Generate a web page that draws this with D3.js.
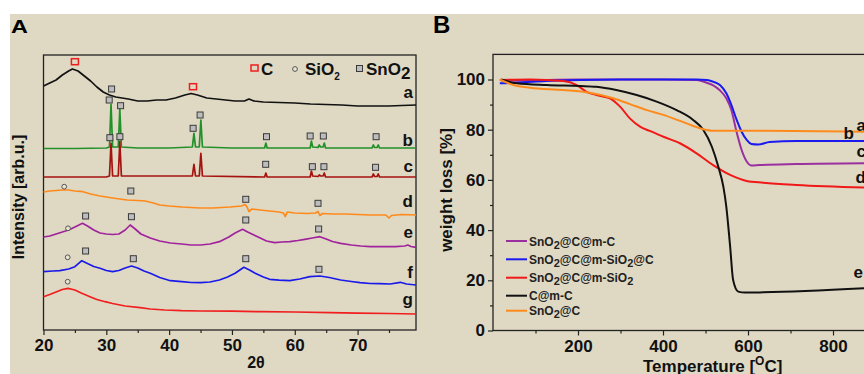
<!DOCTYPE html>
<html>
<head>
<meta charset="utf-8">
<script src="https://cdn.jsdelivr.net/npm/d3@7"></script>
<style>
  body { margin: 0; background: #fff; }
  svg { display: block; font-family: 'Liberation Sans', Arial, sans-serif; font-weight: bold; }
</style>
</head>
<body>
<div class="chart"></div>
<script>
// ---- panel A : XRD, [2theta, intensity] (intensity is arbitrary, stacked) ----
const xrdA = [[20,244],[21,247],[22,250],[23,255],[24,259],[24.6,261],[25.5,259],[26.5,254],[27.5,249],[28.5,243],[29.5,238],[30.5,235],[31.5,233],[32.5,232],[33.5,231],[35,229],[36.5,229],[38,230],[39.5,230],[41,232],[42.5,235],[43.5,236.5],[44.5,235],[46,232],[47.5,231],[49,230],[50.5,229],[52,229],[52.7,231],[53.5,229],[55,228],[57.5,227.5],[60,227],[62.5,226],[65,225.5],[67.5,225],[70,224],[72.5,224],[75,224],[77,224.5],[79.3,225]]
const xrdB = [[20,181.5],[25,181.5],[30,182],[30.5,183],[30.75,225.7],[31,183],[31.9,183],[32.15,221],[32.4,183],[35,182],[40,182],[43.7,183],[43.95,196.7],[44.2,183],[44.8,183],[45.05,210],[45.3,183],[50,182],[55.2,182],[55.4,187],[55.6,182],[62.45,182],[62.65,189],[62.85,183],[63.7,182.5],[63.9,185],[64.1,183],[64.5,183],[64.7,187],[64.9,182],[72.3,182],[72.5,185],[72.7,182.5],[73.1,182.5],[73.3,185],[73.5,182],[79.3,182]]
const xrdC = [[20,153],[30,153],[30.5,154],[30.75,186.7],[31,154],[31.9,154],[32.15,188.3],[32.4,154],[43.7,154],[43.95,165.7],[44.2,154],[44.8,154],[45.05,176.7],[45.3,154],[55.2,153],[55.4,157],[55.6,153],[62.45,153],[62.65,159],[62.85,154],[63.7,153.5],[63.9,155],[64.1,154],[64.5,154],[64.7,157],[64.9,153],[72.3,153],[72.5,156],[72.7,153.5],[73.1,153.5],[73.3,156],[73.5,153],[79.3,153]]
const xrdD = [[20,138],[21,139],[22,139.5],[23,140],[24,140],[25,139],[26.3,138.3],[27.5,136],[29,134],[31,132],[33.3,130],[35,129.5],[36.2,129],[37.5,127],[38.5,125],[40,124],[42,123],[44.9,122],[47,122],[49.7,123],[51.5,124],[52.1,125.5],[52.4,123],[52.7,118.5],[53.2,121],[54.5,120],[56,119],[57.5,118],[58.2,117],[58.5,113.5],[58.8,118],[60,117],[62,116.5],[63.3,117],[63.7,118.5],[64,114.5],[64.4,116.5],[66,116],[68,116],[70,115.5],[72,115],[74.5,115],[75,112],[75.4,114.5],[77,115.5],[79.3,115]]
const xrdE = [[20,93],[21,94],[22,96],[23,98],[24,100],[25,103],[26.2,106.7],[27,104],[28,100],[29,97],[30,96],[31,95.5],[32,96],[33,100],[33.8,105],[34.6,101],[35.5,96],[37,92],[38.5,89],[40.2,87],[42,86],[43.5,85],[45,85],[46.5,86],[48,88.3],[49.5,93],[50.5,97],[51.7,100.7],[52.5,98],[53.5,95],[54.5,92],[55.5,89],[56.8,87.3],[58,88],[59.2,88.3],[60.5,89.5],[61.6,90.7],[62.8,92],[64,93.3],[65,91],[66,88.5],[67.3,86.7],[69,85],[70.5,84],[72,83.3],[74,83.5],[76,83.3],[77.5,84],[78,85],[78.5,83.5],[79.3,82.7]]
const xrdF = [[20,58.3],[21.5,59],[22.6,59.3],[24,61],[25,63.3],[26.1,69.3],[27,66.5],[28,63.5],[29,61.7],[30,59.5],[31,58.3],[32,59.5],[33,62],[34,64],[35,62],[36,59],[37,56.7],[38.5,52.5],[40.2,49.3],[42,48.3],[43.5,47.5],[45,47.3],[46.5,48],[48,50],[49.3,53],[50.5,56.7],[51.9,62.7],[52.8,60],[53.7,56.7],[55,53],[56,50.7],[57.5,49.8],[59.2,49.3],[60.8,51],[62.4,53.3],[64,54],[65.5,52.5],[67.3,50],[69,48.5],[70.4,47.3],[72,46.5],[73.5,46.3],[75.2,46],[76.8,47.7],[77.8,46],[79.3,45]]
const xrdG = [[20,33.3],[21,35.5],[22,38],[23,40.5],[23.9,41.7],[25,40],[26,37],[27.4,33.3],[28.5,30.5],[29.8,28.3],[31,26.5],[33,24],[35.4,22.3],[37,21],[39.3,20],[42,19.3],[45,19],[50,18.8],[54.5,18.3],[60,18],[65.6,17.3],[70,16.8],[75,16.5],[79.3,16]]
const curveNamesA = ['a', 'b', 'c', 'd', 'e', 'f', 'g']

// phase markers [2theta, intensity]
const markC = [[25.0,268.3],[43.8,243.3]]
const markSiO2 = [[23.3,143.3],[23.9,101.7],[23.85,72.7],[23.85,48.3]]
const markSnO2 = [[30.84,241],[30.46,230],[32.27,224.3],[43.82,201.7],[44.93,215],[55.5,193.3],[62.45,194],[64.55,194],[72.95,193.3],
  [30.57,192.3],[32.16,193.3],[55.37,165.7],[62.8,163.3],[64.64,163.3],[72.86,162.7],
  [33.9,139],[52.2,130.7],[63.7,126.7],
  [26.7,114],[34.0,113.3],[52.2,110],[63.8,101],
  [26.7,79],[34.3,71.3],[52.2,71.3],[63.85,60.7]]
const ticksA = [20, 30, 40, 50, 60, 70]
const minorA = [25, 35, 45, 55, 65, 75]

// ---- panel B : TGA, [temperature, weight %] ----
const tgaMC = [[20,99.4],[100,99.7],[200,100],[300,100],[400,100],[479,99.8],[503,98.7],[517,97.8],[533,95.8],[549,92.5],[561,87.8],[572,79.9],[585,71.9],[597,67.3],[608,65.7],[627,65.9],[714,66.3],[873,66.6]]
const tgaMSiC = [[16,98.5],[56,98.7],[125,99.4],[205,99.8],[300,100],[400,100],[479,100],[503,99.8],[513,99.4],[534,97.8],[549,94.5],[561,89.8],[572,84.5],[585,79.2],[597,75.9],[608,74.3],[624,74.1],[651,75.1],[714,75.5],[873,75.5]]
const tgaMSi = [[16,99.8],[87,100],[165,99.4],[197,97.8],[220,95.1],[243,93.8],[275,92.5],[299,89.2],[322,84.5],[346,81.2],[369,79.5],[401,77.2],[440,74.6],[479,70.6],[518,65.9],[558,62],[597,59.6],[636,58.9],[714,58],[873,57]]
const tgaCmC = [[19,100],[56,98.5],[126,97.8],[205,97.4],[243,97.1],[290,95.8],[338,93.8],[385,91.2],[432,87.8],[471,83.9],[495,79.9],[515,73.2],[530,65.3],[542,57.3],[549,49.3],[558,33.4],[565,20.1],[577,15.5],[593,15.1],[636,15.2],[873,16.8]]
const tgaSnC = [[16,100],[48,97.8],[87,96.7],[165,95.8],[228,94.7],[283,92.5],[322,90.2],[362,87.8],[401,85.9],[440,83.5],[471,81.5],[495,80.2],[518,79.6],[558,79.6],[636,79.6],[873,79.2]]
const legendNamesB = [['SnO', '2', '@C@m-C'], ['SnO', '2', '@C@m-SiO', '2', '@C'], ['SnO', '2', '@C@m-SiO', '2'], ['C@m-C'], ['SnO', '2', '@C']]
const curveNamesB = ['c', 'b', 'd', 'e', 'a']
const ticksBx = [200, 400, 600, 800]
const minorBx = [100, 300, 500, 700, 900]
const ticksBy = [0, 20, 40, 60, 80, 100]
const minorBy = [10, 30, 50, 70, 90]

const colorsA = ['#111', '#23902a', '#a5120f', '#ff8a1c', '#a0229c', '#1a1ae8', '#f01e1e']
const colorsB = ['#9a2fa0', '#1a1af0', '#f01818', '#111', '#ff8a1c']

const svg = d3.select('.chart')
  .append('svg')
    .attr('width', 864)
    .attr('height', 374)

svg.append('rect')
  .attr('x', 10).attr('y', 14)
  .attr('width', 854).attr('height', 360)
  .attr('fill', '#dfd9c4')

function styleAxis(g) {
  g.select('.domain').remove()
  g.selectAll('line').attr('stroke', '#222').attr('stroke-width', 1.2)
  g.selectAll('text')
    .attr('fill', '#111')
    .style('font-family', "'Liberation Sans', Arial, sans-serif")
    .style('font-weight', 'bold')
    .style('font-size', '17px')
}

// ============ panel A ============
const xA = d3.scaleLinear().domain([20, 79.3]).range([43.5, 416])
const yA = d3.scaleLinear().domain([0, 275]).range([330, 55])
const gA = svg.append('g')

gA.append('g')
    .attr('transform', `translate(0, ${yA(0)})`)
  .call(d3.axisBottom(xA).tickValues(ticksA).tickSize(5).tickPadding(4))
  .call(styleAxis)
gA.append('g')
    .attr('transform', `translate(0, ${yA(0)})`)
  .call(d3.axisBottom(xA).tickValues(minorA).tickSize(3).tickFormat(''))
  .call(styleAxis)

gA.append('rect')
  .attr('x', xA(20)).attr('y', yA(275))
  .attr('width', xA(79.3) - xA(20)).attr('height', yA(0) - yA(275))
  .attr('fill', 'none').attr('stroke', '#222').attr('stroke-width', 1.3)

const lineA = d3.line().x(d => xA(d[0])).y(d => yA(d[1]))
const seriesA = [xrdA, xrdB, xrdC, xrdD, xrdE, xrdF, xrdG]
gA.selectAll('.xrd')
  .data(seriesA)
  .enter()
  .append('path')
    .attr('class', 'xrd')
    .attr('d', lineA)
    .attr('fill', 'none')
    .attr('stroke', (d, i) => colorsA[i])
    .attr('stroke-width', 1.7)
    .attr('stroke-linejoin', 'round')

// curve letters at right
const labelYA = [98, 146, 172, 207, 238, 278, 305]
gA.selectAll('.lblA')
  .data(curveNamesA)
  .enter()
  .append('text')
    .attr('x', 413)
    .attr('y', (d, i) => labelYA[i])
    .attr('text-anchor', 'end')
    .style('font-size', '17px')
    .attr('fill', '#111')
    .text(d => d)

gA.selectAll('.mC')
  .data(markC)
  .enter()
  .append('rect')
    .attr('x', d => xA(d[0]) - 3.5).attr('y', d => yA(d[1]) - 3)
    .attr('width', 7).attr('height', 6)
    .attr('fill', 'none').attr('stroke', '#ee1c1c').attr('stroke-width', 1.5)

gA.selectAll('.mSi')
  .data(markSiO2)
  .enter()
  .append('circle')
    .attr('cx', d => xA(d[0])).attr('cy', d => yA(d[1]))
    .attr('r', 2.4)
    .attr('fill', '#e8e4d4').attr('stroke', '#555').attr('stroke-width', 1)

gA.selectAll('.mSn')
  .data(markSnO2)
  .enter()
  .append('rect')
    .attr('x', d => xA(d[0]) - 3).attr('y', d => yA(d[1]) - 3)
    .attr('width', 6).attr('height', 6)
    .attr('fill', '#bdbdbd').attr('stroke', '#3a3a3a').attr('stroke-width', 1)

// legend of phases
const legA = gA.append('g').attr('fill', '#111').style('font-size', '17px')
legA.append('rect').attr('x', 251).attr('y', 65).attr('width', 7).attr('height', 6)
  .attr('fill', 'none').attr('stroke', '#ee1c1c').attr('stroke-width', 1.5)
legA.append('text').attr('x', 261).attr('y', 75).text('C')
legA.append('circle').attr('cx', 295).attr('cy', 69).attr('r', 2.4)
  .attr('fill', '#e8e4d4').attr('stroke', '#555')
const siT = legA.append('text').attr('x', 305).attr('y', 75)
siT.append('tspan').text('SiO')
siT.append('tspan').attr('dy', 5).style('font-size', '10px').text('2')
legA.append('rect').attr('x', 356.5).attr('y', 65.5).attr('width', 6).attr('height', 6)
  .attr('fill', '#bdbdbd').attr('stroke', '#3a3a3a')
const snT = legA.append('text').attr('x', 366).attr('y', 75)
snT.append('tspan').text('SnO')
snT.append('tspan').attr('dy', 4).text('2')

// panel letter, a bit wide like the original
svg.append('text')
  .attr('transform', 'translate(11, 33) scale(1.3, 1)')
  .style('font-size', '18px')
  .text('A')

svg.append('text')
  .attr('transform', 'translate(24, 197) rotate(-90)')
  .attr('text-anchor', 'middle')
  .style('font-size', '16px')
  .attr('fill', '#111')
  .text('Intensity [arb.u.]')

svg.append('text')
  .attr('x', 256).attr('y', 368)
  .attr('text-anchor', 'middle')
  .style('font-size', '16px')
  .attr('fill', '#111')
  .text('2θ')

// ============ panel B ============
const xB = d3.scaleLinear().domain([0, 900]).range([493, 875.5])
const yB = d3.scaleLinear().domain([0, 110]).range([330.5, 54.4])
const gB = svg.append('g')

gB.append('g')
    .attr('transform', `translate(0, ${yB(0)})`)
  .call(d3.axisBottom(xB).tickValues(ticksBx).tickSize(5).tickPadding(4))
  .call(styleAxis)
gB.append('g')
    .attr('transform', `translate(0, ${yB(0)})`)
  .call(d3.axisBottom(xB).tickValues(minorBx).tickSize(3).tickFormat(''))
  .call(styleAxis)
gB.append('g')
    .attr('transform', `translate(${xB(0)}, 0)`)
  .call(d3.axisLeft(yB).tickValues(ticksBy).tickSize(5).tickPadding(3))
  .call(styleAxis)
gB.append('g')
    .attr('transform', `translate(${xB(0)}, 0)`)
  .call(d3.axisLeft(yB).tickValues(minorBy).tickSize(3).tickFormat(''))
  .call(styleAxis)

gB.append('rect')
  .attr('x', xB(0)).attr('y', yB(110))
  .attr('width', xB(900) - xB(0)).attr('height', yB(0) - yB(110))
  .attr('fill', 'none').attr('stroke', '#222').attr('stroke-width', 1.3)

const lineB = d3.line().x(d => xB(d[0])).y(d => yB(d[1])).curve(d3.curveMonotoneX)
const seriesB = [tgaMC, tgaMSiC, tgaMSi, tgaCmC, tgaSnC]
gB.selectAll('.tga')
  .data(seriesB)
  .enter()
  .append('path')
    .attr('class', 'tga')
    .attr('d', lineB)
    .attr('fill', 'none')
    .attr('stroke', (d, i) => colorsB[i])
    .attr('stroke-width', 2)

// letters at the right edge (partly cut by the page edge, as in the original)
const labelPosB = [[866, 157], [854, 139], [866, 183], [863, 278], [866, 131]]
gB.selectAll('.lblB')
  .data(curveNamesB)
  .enter()
  .append('text')
    .attr('x', (d, i) => labelPosB[i][0])
    .attr('y', (d, i) => labelPosB[i][1])
    .attr('text-anchor', 'end')
    .style('font-size', '17px')
    .attr('fill', '#111')
    .text(d => d)

// legend
const legRowsY = [241, 259.3, 277.7, 295.7, 310.7]
const legB = gB.selectAll('.legB')
  .data(legendNamesB)
  .enter()
  .append('g')
    .attr('transform', (d, i) => `translate(506, ${legRowsY[i]})`)
legB.append('line')
  .attr('x1', 0).attr('x2', 21)
  .attr('stroke', (d, i) => colorsB[i]).attr('stroke-width', 2)
const legText = legB.append('text')
  .attr('x', 23).attr('y', 4.5)
  .style('font-size', '12px')
  .attr('fill', '#222')
legText.selectAll('tspan')
  .data(d => d)
  .enter()
  .append('tspan')
    .attr('dy', (d, i) => d === '2' ? 3 : (i > 0 ? -3 : 0))
    .style('font-size', d => d === '2' ? '11px' : '12px')
    .text(d => d)

svg.append('text')
  .attr('x', 433).attr('y', 33)
  .style('font-size', '24px')
  .text('B')

svg.append('text')
  .attr('transform', 'translate(452, 190) rotate(-90)')
  .attr('text-anchor', 'middle')
  .style('font-size', '17px')
  .attr('fill', '#111')
  .text('weight loss [%]')

const tLabel = svg.append('text')
  .attr('x', 643).attr('y', 372)
  .style('font-size', '17px')
  .attr('fill', '#111')
tLabel.append('tspan').text('Temperature [')
tLabel.append('tspan').attr('dy', -7).style('font-size', '12px').text('O')
tLabel.append('tspan').attr('dy', 7).text('C]')
</script>
</body>
</html>
